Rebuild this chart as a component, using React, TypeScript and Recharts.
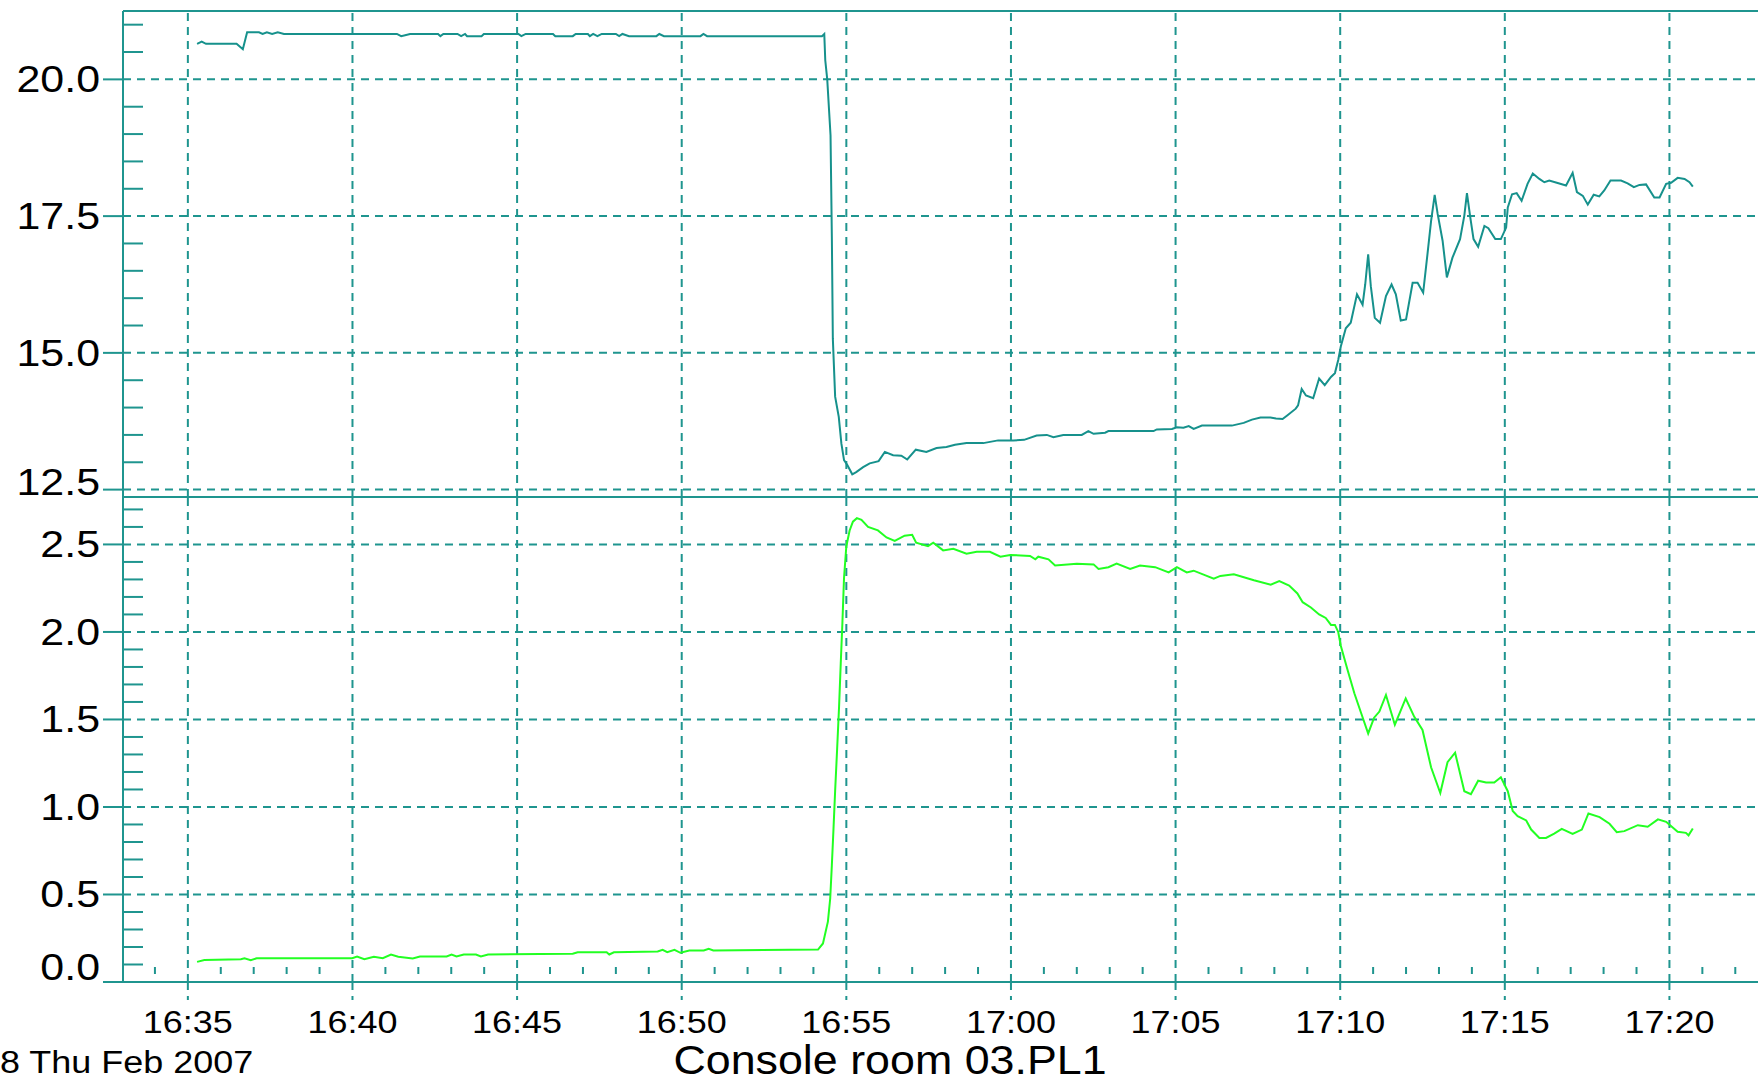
import React from 'react';
import { LineChart, Line, XAxis, YAxis, ReferenceLine } from 'recharts';

// minutes after 16:00
const TOP_TIME = [
  35.28, 35.42, 35.55, 36.48, 36.67, 36.8, 37.16, 37.27, 37.4, 37.56, 37.73, 37.92, 41.35, 41.48, 41.75,
  42.6, 42.67, 42.76, 43.19, 43.3, 43.42, 43.48, 43.92, 43.99, 45.04, 45.13, 45.26, 46.09, 46.16, 46.69,
  46.78, 47.15, 47.21, 47.31, 47.44, 47.57, 48.0, 48.1, 48.2, 48.4, 49.23, 49.32, 49.46, 50.57, 50.66,
  50.77, 54.26, 54.33, 54.36, 54.42, 54.52, 54.56, 54.59, 54.66, 54.77, 54.85, 54.93, 55.03, 55.18, 55.3,
  55.51, 55.71, 55.98, 56.17, 56.42, 56.67, 56.85, 57.11, 57.43, 57.74, 58.04, 58.3, 58.65, 59.16, 59.61,
  60.07, 60.4, 60.78, 61.09, 61.29, 61.59, 62.15, 62.35, 62.51, 62.86, 62.96, 64.33, 64.43, 64.89, 65.04,
  65.24, 65.4, 65.55, 65.8, 66.71, 67.07, 67.32, 67.58, 67.88, 68.05, 68.25, 68.4, 68.65, 68.72, 68.83,
  68.96, 69.18, 69.36, 69.53, 69.72, 69.84, 69.94, 70.02, 70.17, 70.32, 70.51, 70.68, 70.76, 70.85, 70.93,
  71.05, 71.21, 71.39, 71.56, 71.69, 71.84, 72.0, 72.2, 72.35, 72.52, 72.65, 72.76, 72.87, 72.96, 73.11,
  73.24, 73.41, 73.64, 73.77, 73.85, 73.95, 74.05, 74.19, 74.38, 74.5, 74.71, 74.88, 75.04, 75.09, 75.22,
  75.36, 75.51, 75.69, 75.85, 76.05, 76.2, 76.35, 76.63, 76.86, 77.06, 77.19, 77.37, 77.52, 77.7, 77.87,
  78.02, 78.21, 78.53, 78.73, 78.92, 79.09, 79.29, 79.54, 79.7, 79.9, 80.05, 80.25, 80.46, 80.61, 80.71,
];
const TOP_VALUE = [
  20.65, 20.69, 20.65, 20.65, 20.55, 20.86, 20.86, 20.83, 20.86, 20.83, 20.86, 20.83, 20.83, 20.79, 20.83,
  20.83, 20.79, 20.83, 20.83, 20.79, 20.83, 20.79, 20.79, 20.83, 20.83, 20.79, 20.83, 20.83, 20.79, 20.79,
  20.83, 20.83, 20.79, 20.83, 20.79, 20.83, 20.83, 20.79, 20.83, 20.79, 20.79, 20.83, 20.79, 20.79, 20.83,
  20.79, 20.79, 20.83, 20.35, 20.0, 18.98, 17.12, 15.26, 14.2, 13.83, 13.34, 13.04, 12.95, 12.78, 12.82,
  12.91, 12.98, 13.02, 13.19, 13.13, 13.12, 13.05, 13.23, 13.19, 13.26, 13.28, 13.32, 13.35, 13.35, 13.4,
  13.4, 13.41, 13.49, 13.5, 13.46, 13.5, 13.5, 13.57, 13.52, 13.54, 13.57, 13.57, 13.6, 13.61, 13.64,
  13.63, 13.66, 13.61, 13.67, 13.67, 13.72, 13.78, 13.82, 13.82, 13.8, 13.79, 13.86, 13.98, 14.04, 14.34,
  14.22, 14.17, 14.53, 14.41, 14.56, 14.63, 14.87, 15.12, 15.45, 15.55, 16.07, 15.88, 16.25, 16.8, 16.22,
  15.64, 15.55, 16.04, 16.25, 16.07, 15.59, 15.61, 16.28, 16.28, 16.1, 16.8, 17.41, 17.89, 17.54, 17.05,
  16.38, 16.74, 17.08, 17.51, 17.92, 17.48, 17.08, 16.94, 17.32, 17.28, 17.08, 17.08, 17.29, 17.66, 17.9,
  17.92, 17.78, 18.09, 18.28, 18.18, 18.12, 18.15, 18.1, 18.06, 18.29, 17.94, 17.87, 17.71, 17.89, 17.86,
  17.97, 18.15, 18.15, 18.1, 18.03, 18.07, 18.08, 17.84, 17.84, 18.09, 18.11, 18.2, 18.18, 18.12, 18.04,
];

const BOTTOM_TIME = [
  35.28, 35.5, 36.61, 36.72, 36.91, 37.09, 39.99, 40.14, 40.36, 40.65, 40.92, 41.17, 41.39, 41.83, 42.05,
  42.86, 43.01, 43.16, 43.38, 43.75, 43.9, 44.12, 46.69, 46.84, 47.72, 47.8, 47.94, 49.27, 49.42, 49.56,
  49.78, 49.96, 50.23, 50.67, 50.82, 50.96, 54.14, 54.29, 54.44, 54.51, 54.56, 54.61, 54.66, 54.72, 54.78,
  54.83, 54.88, 54.93, 55.0, 55.1, 55.2, 55.32, 55.46, 55.66, 55.96, 56.22, 56.47, 56.77, 57.0, 57.12,
  57.48, 57.64, 57.94, 58.25, 58.65, 58.96, 59.36, 59.68, 59.98, 60.58, 60.74, 60.83, 61.14, 61.34, 62.0,
  62.51, 62.66, 62.96, 63.21, 63.62, 63.92, 64.38, 64.79, 65.04, 65.34, 65.55, 66.16, 66.36, 66.77, 67.38,
  67.89, 68.15, 68.45, 68.7, 68.86, 69.11, 69.36, 69.56, 69.72, 69.84, 69.94, 70.02, 70.22, 70.43, 70.63,
  70.85, 71.03, 71.19, 71.39, 71.66, 71.99, 72.25, 72.5, 72.76, 73.04, 73.26, 73.49, 73.77, 73.97, 74.19,
  74.43, 74.68, 74.88, 75.09, 75.24, 75.39, 75.65, 75.8, 76.05, 76.25, 76.5, 76.73, 77.06, 77.34, 77.54,
  77.88, 78.18, 78.4, 78.63, 79.04, 79.34, 79.65, 79.9, 80.25, 80.5, 80.58, 80.71,
];
const BOTTOM_VALUE = [
  0.115, 0.125, 0.13, 0.136, 0.125, 0.135, 0.136, 0.146, 0.13, 0.144, 0.136, 0.157, 0.144, 0.135, 0.146,
  0.146, 0.157, 0.146, 0.157, 0.157, 0.146, 0.157, 0.161, 0.17, 0.17, 0.157, 0.17, 0.174, 0.184, 0.17,
  0.184, 0.167, 0.18, 0.18, 0.19, 0.18, 0.185, 0.22, 0.345, 0.477, 0.667, 0.875, 1.093, 1.33, 1.576,
  1.82, 2.05, 2.31, 2.49, 2.58, 2.63, 2.65, 2.64, 2.6, 2.58, 2.54, 2.52, 2.55, 2.555, 2.51,
  2.49, 2.51, 2.466, 2.475, 2.447, 2.458, 2.458, 2.43, 2.44, 2.434, 2.415, 2.43, 2.415, 2.38, 2.39,
  2.386, 2.36, 2.37, 2.39, 2.36, 2.38, 2.37, 2.34, 2.37, 2.34, 2.35, 2.305, 2.32, 2.33, 2.295,
  2.27, 2.29, 2.265, 2.22, 2.17, 2.14, 2.1, 2.08, 2.04, 2.04, 2.0, 1.92, 1.785, 1.65, 1.54,
  1.42, 1.51, 1.545, 1.64, 1.47, 1.62, 1.515, 1.44, 1.227, 1.08, 1.256, 1.31, 1.09, 1.073, 1.15,
  1.14, 1.14, 1.17, 1.09, 0.977, 0.948, 0.923, 0.871, 0.823, 0.823, 0.848, 0.875, 0.846, 0.871, 0.963,
  0.942, 0.904, 0.856, 0.862, 0.896, 0.887, 0.929, 0.915, 0.858, 0.852, 0.838, 0.877,
];

const X_MAJOR = [35, 40, 45, 50, 55, 60, 65, 70, 75, 80];
const X_LABELS = ['16:35', '16:40', '16:45', '16:50', '16:55', '17:00', '17:05', '17:10', '17:15', '17:20'];
const X_MINOR = [
  34, 36, 37, 38, 39, 41, 42, 43, 44, 46, 47, 48, 49, 51, 52, 53, 54, 56, 57, 58, 59, 61, 62, 63, 64,
  66, 67, 68, 69, 71, 72, 73, 74, 76, 77, 78, 79, 81, 82,
];

const TOP_MAJOR = [12.5, 15, 17.5, 20];
const TOP_MINOR = [13, 13.5, 14, 14.5, 15.5, 16, 16.5, 17, 18, 18.5, 19, 19.5, 20.5, 21];
const BOTTOM_MAJOR = [0, 0.5, 1, 1.5, 2, 2.5];
const BOTTOM_MINOR = [
  0.1, 0.2, 0.3, 0.4, 0.6, 0.7, 0.8, 0.9, 1.1, 1.2, 1.3, 1.4, 1.6, 1.7, 1.8, 1.9, 2.1, 2.2, 2.3, 2.4, 2.6, 2.7,
];

const X_DOMAIN: [number, number] = [33.03, 82.69];
const TOP_DOMAIN: [number, number] = [12.365, 21.25];
const BOTTOM_DOMAIN: [number, number] = [0, 2.771];

const W = 1758;
const H = 1082;
const SPLIT = 497;
const AXIS_BOTTOM = 982;
const TEAL = '#1f958f';
const LINE_TEAL = '#16918c';
const GREEN = '#22ff22';
const FONT = '"Liberation Sans", Arial, sans-serif';
const STRETCH = 1.16;

const topData = TOP_TIME.map((t, i) => ({ t, v: TOP_VALUE[i] }));
const bottomData = BOTTOM_TIME.map((t, i) => ({ t, v: BOTTOM_VALUE[i] }));

const isIn = (list: number[], v: number) => list.some(m => Math.abs(m - v) < 1e-6);

const makeYTick = (majors: number[], panelBottom: number) => (props: any) => {
  const { x, y, payload } = props;
  const value = payload.value as number;
  if (isIn(majors, value)) {
    const cy = Math.min(y, panelBottom - 15);
    return (
      <g>
        <line x1={x - 20} y1={y} x2={x} y2={y} stroke={TEAL} strokeWidth={2} />
        <text
          transform={`translate(${x - 23},${cy + 13}) scale(${STRETCH},1)`}
          textAnchor="end"
          fontFamily={FONT}
          fontSize={37}
          fill="#000"
        >
          {value.toFixed(1)}
        </text>
      </g>
    );
  }
  return <line x1={x} y1={y} x2={x + 20} y2={y} stroke={TEAL} strokeWidth={2} />;
};

const renderXTick = (props: any) => {
  const { x, y, payload } = props;
  const idx = X_MAJOR.findIndex(m => Math.abs(m - payload.value) < 1e-6);
  if (idx >= 0) {
    return (
      <g>
        <line x1={x} y1={y} x2={x} y2={y + 18} stroke={TEAL} strokeWidth={2} strokeDasharray="8 6" />
        <text
          transform={`translate(${x},${y + 51}) scale(${STRETCH},1)`}
          textAnchor="middle"
          fontFamily={FONT}
          fontSize={31}
          fill="#000"
        >
          {X_LABELS[idx]}
        </text>
      </g>
    );
  }
  return <line x1={x} y1={y - 15} x2={x} y2={y - 8} stroke={TEAL} strokeWidth={2} />;
};

const gridProps = { stroke: TEAL, strokeWidth: 2, strokeDasharray: '8 6' };
const frameProps = { stroke: TEAL, strokeWidth: 2 };

export default function App() {
  return (
    <div style={{ position: 'absolute', left: 0, top: 0, width: W, height: H, background: '#fff' }}>
      <div style={{ position: 'absolute', left: 0, top: 0 }}>
        <LineChart width={W} height={H} margin={{ top: 11, right: 0, bottom: H - SPLIT, left: 0 }}>
          <XAxis type="number" dataKey="t" domain={X_DOMAIN} allowDataOverflow hide height={0} />
          <YAxis
            type="number"
            domain={TOP_DOMAIN}
            allowDataOverflow
            ticks={[...TOP_MAJOR, ...TOP_MINOR]}
            interval={0}
            width={123}
            tickSize={0}
            tickMargin={0}
            tickLine={false}
            axisLine={frameProps}
            tick={makeYTick(TOP_MAJOR, SPLIT)}
          />
          {TOP_MAJOR.map(v => (
            <ReferenceLine key={`h${v}`} y={v} {...gridProps} />
          ))}
          {X_MAJOR.map(v => (
            <ReferenceLine key={`v${v}`} x={v} {...gridProps} />
          ))}
          <ReferenceLine y={TOP_DOMAIN[1]} {...frameProps} />
          <Line
            data={topData}
            dataKey="v"
            type="linear"
            stroke={LINE_TEAL}
            strokeWidth={2}
            dot={false}
            isAnimationActive={false}
          />
        </LineChart>
      </div>
      <div style={{ position: 'absolute', left: 0, top: 0 }}>
        <LineChart width={W} height={H} margin={{ top: SPLIT, right: 0, bottom: 0, left: 0 }}>
          <XAxis
            type="number"
            dataKey="t"
            domain={X_DOMAIN}
            allowDataOverflow
            ticks={[...X_MAJOR, ...X_MINOR]}
            interval={0}
            height={H - AXIS_BOTTOM}
            tickSize={0}
            tickMargin={0}
            tickLine={false}
            axisLine={frameProps}
            tick={renderXTick}
          />
          <YAxis
            type="number"
            domain={BOTTOM_DOMAIN}
            allowDataOverflow
            ticks={[...BOTTOM_MAJOR, ...BOTTOM_MINOR]}
            interval={0}
            width={123}
            tickSize={0}
            tickMargin={0}
            tickLine={false}
            axisLine={frameProps}
            tick={makeYTick(BOTTOM_MAJOR, AXIS_BOTTOM)}
          />
          {BOTTOM_MAJOR.filter(v => v > 0).map(v => (
            <ReferenceLine key={`h${v}`} y={v} {...gridProps} />
          ))}
          {X_MAJOR.map(v => (
            <ReferenceLine key={`v${v}`} x={v} {...gridProps} />
          ))}
          <ReferenceLine y={BOTTOM_DOMAIN[1]} {...frameProps} />
          <Line
            data={bottomData}
            dataKey="v"
            type="linear"
            stroke={GREEN}
            strokeWidth={2}
            dot={false}
            isAnimationActive={false}
          />
        </LineChart>
      </div>
      <svg width={W} height={H} style={{ position: 'absolute', left: 0, top: 0, pointerEvents: 'none' }}>
        <text transform={`translate(0,1073) scale(${STRETCH},1)`} fontFamily={FONT} fontSize={31} fill="#000">
          8 Thu Feb 2007
        </text>
        <text
          transform={`translate(890,1074) scale(1.12,1)`}
          textAnchor="middle"
          fontFamily={FONT}
          fontSize={40}
          fill="#000"
        >
          Console room 03.PL1
        </text>
      </svg>
    </div>
  );
}
